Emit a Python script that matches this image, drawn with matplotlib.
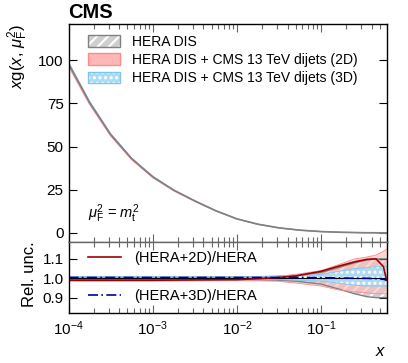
import numpy as np
import matplotlib.pyplot as plt
from matplotlib.patches import Patch

plt.rcParams['font.family'] = ['Liberation Sans', 'DejaVu Sans']
plt.rcParams['mathtext.fontset'] = 'custom'
plt.rcParams['mathtext.rm'] = 'Liberation Sans'
plt.rcParams['mathtext.it'] = 'Liberation Sans:italic'
plt.rcParams['hatch.linewidth'] = 1.5

# gluon distribution xg(x, mu_F^2 = m_t^2), HERA DIS central
x_pdf = [1e-4, 1.78e-4, 3.16e-4, 5.62e-4, 1e-3, 1.78e-3, 3.16e-3, 5.62e-3,
         1e-2, 1.78e-2, 3.16e-2, 5.62e-2, 0.1, 0.178, 0.316, 0.6]
xg_hera = [98, 75.5, 57, 43, 32.5, 24.7, 18.5, 12.8,
           8.1, 5.0, 2.9, 1.55, 0.75, 0.32, 0.1, 0.01]

# relative uncertainty bands and ratios
x_rel = [1e-4, 1e-3, 1e-2, 0.03, 0.05, 0.1, 0.16, 0.25, 0.35, 0.45, 0.55, 0.6]
hera_up = [1.006, 1.005, 1.006, 1.01, 1.015, 1.03, 1.055, 1.08, 1.095, 1.1, 1.1, 1.1]
hera_lo = [0.994, 0.995, 0.994, 0.99, 0.985, 0.97, 0.945, 0.92, 0.905, 0.9, 0.9, 0.9]
d2_up = [1.005, 1.004, 1.005, 1.01, 1.02, 1.04, 1.07, 1.1, 1.11, 1.12, 1.14, 1.15]
d2_lo = [0.985, 0.985, 0.988, 0.985, 0.975, 0.96, 0.94, 0.93, 0.925, 0.92, 0.92, 0.92]
d3_up = [1.008, 1.008, 1.008, 1.01, 1.012, 1.02, 1.035, 1.05, 1.055, 1.06, 1.06, 1.06]
d3_lo = [0.997, 0.997, 0.996, 0.993, 0.99, 0.985, 0.975, 0.965, 0.96, 0.96, 0.96, 0.96]
ratio_2d = [0.99, 0.99, 0.993, 1.003, 1.012, 1.036, 1.062, 1.085, 1.098, 1.1, 1.06, 0.99]
ratio_3d = [1.004, 1.004, 1.004, 1.004, 1.004, 1.003, 1.002, 1.0, 1.0, 0.998, 0.995, 0.99]

grey_face, grey_edge = '#cfcfcf', '#808080'
pink_face, pink_edge = '#ffb8b8', '#ff8a8a'
blue_face, blue_edge = '#aadcf4', '#7cc6ea'

fig = plt.figure(figsize=(4.08, 3.63), dpi=100)
ax1 = fig.add_axes([0.168, 0.3347, 0.7796, 0.5993])
ax2 = fig.add_axes([0.168, 0.139, 0.7796, 0.1957], sharex=ax1)

# relative bands put onto the pdf grid for the top panel
lx = np.log10(x_pdf)
lr = np.log10(x_rel)
xg = np.array(xg_hera)
def band(vals):
    return np.interp(lx, lr, vals) * xg

ax1.fill_between(x_pdf, band(hera_lo), band(hera_up), facecolor=grey_face, edgecolor='white',
                 hatch='///', lw=0)
ax1.fill_between(x_pdf, band(d2_lo), band(d2_up), facecolor=pink_face, alpha=0.7, lw=0)
ax1.fill_between(x_pdf, band(d3_lo), band(d3_up), facecolor=blue_face, edgecolor='white',
                 hatch='..', lw=0, alpha=0.8)
ax1.plot(x_pdf, band(d2_lo), color=pink_edge, lw=0.8)
ax1.plot(x_pdf, band(d3_up), color=blue_edge, lw=0.8)
ax1.plot(x_pdf, xg, color=grey_edge, lw=1.2)

# bottom panel
ax2.fill_between(x_rel, hera_lo, hera_up, facecolor=grey_face, edgecolor='white',
                 hatch='///', lw=0)
ax2.fill_between(x_rel, d2_lo, d2_up, facecolor=pink_face, alpha=0.6, lw=0)
ax2.fill_between(x_rel, d3_lo, d3_up, facecolor=blue_face, edgecolor='white',
                 hatch='...', lw=0, alpha=0.9)
ax2.plot(x_rel, hera_up, color=grey_edge, lw=1)
ax2.plot(x_rel, hera_lo, color=grey_edge, lw=1)
ax2.plot(x_rel, d2_up, color=pink_edge, lw=0.6)
ax2.plot(x_rel, d2_lo, color=pink_edge, lw=0.6)
ax2.plot(x_rel, d3_up, color=blue_edge, lw=0.6)
ax2.plot(x_rel, d3_lo, color=blue_edge, lw=0.6)
ax2.axhline(1.0, color='black', lw=0.8)
l2d, = ax2.plot(x_rel, ratio_2d, color='#a00000', lw=1.2)
l3d, = ax2.plot(x_rel, ratio_3d, color='#000099', lw=1.2, ls=(0, (6, 2, 1, 2)))

ax1.set_xscale('log')
ax1.set_xlim(1e-4, 0.6)
ax1.set_ylim(-5, 121)
ax1.set_yticks([0, 25, 50, 75, 100])
ax2.set_ylim(0.823, 1.19)
ax2.set_yticks([0.9, 1.0, 1.1])
ax2.set_yticklabels(['0.9', '1.0', '1.1'])

for ax in (ax1, ax2):
    ax.tick_params(which='both', direction='in', top=True, right=True, labelsize=11)
    ax.tick_params(which='major', length=6, width=0.8)
    ax.tick_params(which='minor', length=3.5, width=0.8)
    for s in ax.spines.values():
        s.set_linewidth(1.0)
ax1.spines['bottom'].set_color('#666666')
ax2.spines['top'].set_color('#666666')
ax1.tick_params(axis='x', which='both', labelbottom=False, color='#666666')
ax2.tick_params(axis='x', which='both', color='#666666')
ax2.tick_params(axis='x', pad=5)

ax1.set_ylabel(r'$x$g($x$, $\mu_\mathrm{F}^2$)', fontsize=12, loc='top', labelpad=6)
ax2.set_ylabel('Rel. unc.', fontsize=12, loc='top')
fig.align_ylabels([ax1, ax2])
ax2.set_xlabel(r'$x$', fontsize=12, loc='right', labelpad=4)

h_hera = (Patch(facecolor=grey_face, edgecolor='white', hatch='///', lw=0),
          Patch(fill=False, edgecolor=grey_edge, lw=1))
h_2d = (Patch(facecolor=pink_face, lw=0), Patch(fill=False, edgecolor=pink_edge, lw=1))
h_3d = (Patch(facecolor=blue_face, edgecolor='white', hatch='...', lw=0),
        Patch(fill=False, edgecolor=blue_edge, lw=1))
ax1.legend([h_hera, h_2d, h_3d],
           ['HERA DIS', 'HERA DIS + CMS 13 TeV dijets (2D)', 'HERA DIS + CMS 13 TeV dijets (3D)'],
           loc='upper left', bbox_to_anchor=(0.06, 0.95), frameon=False, fontsize=10,
           borderpad=0, borderaxespad=0, handlelength=2.3, handleheight=0.9,
           handletextpad=0.9, labelspacing=0.3)
ax1.text(0.061, 0.13, r'$\mu_\mathrm{F}^2$ = $m_\mathrm{t}^2$', transform=ax1.transAxes,
         fontsize=10.5, va='center')

leg_a = ax2.legend([l2d], ['(HERA+2D)/HERA'], loc='center left', bbox_to_anchor=(0.06, 0.77),
                   frameon=False, fontsize=10.5, borderpad=0, borderaxespad=0,
                   handlelength=2.3, handletextpad=0.9)
ax2.add_artist(leg_a)
ax2.legend([l3d], ['(HERA+3D)/HERA'], loc='center left', bbox_to_anchor=(0.06, 0.23),
           frameon=False, fontsize=10.5, borderpad=0, borderaxespad=0,
           handlelength=2.3, handletextpad=0.9)

fig.text(0.168, 0.965, 'CMS', fontsize=14.5, fontweight='bold', va='center', ha='left')

fig.savefig('out.png', dpi=100)
